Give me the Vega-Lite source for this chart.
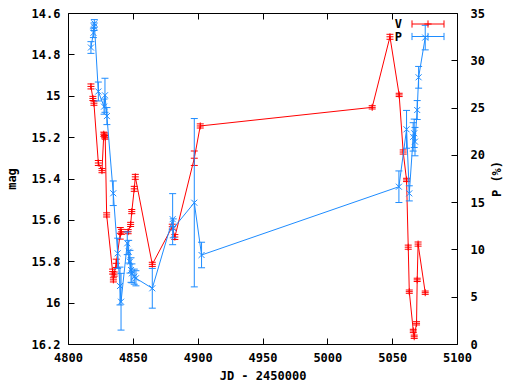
{
  "$schema": "https://vega.github.io/schema/vega-lite/v6.json",
  "width": 389,
  "height": 331,
  "autosize": {"type": "none"},
  "padding": {"left": 68, "top": 13, "right": 55, "bottom": 40},
  "background": "white",
  "config": {
    "view": {"stroke": "black", "strokeWidth": 1},
    "font": "DejaVu Sans Mono",
    "axis": {
      "domain": false,
      "grid": false,
      "tickColor": "black",
      "tickSize": -6,
      "tickWidth": 1,
      "labelFlush": false,
      "labelOverlap": false,
      "labelFont": "DejaVu Sans Mono",
      "labelFontSize": 12,
      "labelFontWeight": "bold",
      "labelColor": "black",
      "titleFont": "DejaVu Sans Mono",
      "titleFontSize": 12,
      "titleFontWeight": "bold",
      "titleColor": "black"
    }
  },
  "datasets": {
    "V": [
      {"s": "V", "jd": 4817.7, "v": 14.955, "lo": 14.943, "hi": 14.967},
      {"s": "V", "jd": 4819.2, "v": 15.013, "lo": 15.003, "hi": 15.023},
      {"s": "V", "jd": 4820.0, "v": 15.036, "lo": 15.026, "hi": 15.046},
      {"s": "V", "jd": 4823.4, "v": 15.325, "lo": 15.313, "hi": 15.337},
      {"s": "V", "jd": 4826.2, "v": 15.362, "lo": 15.352, "hi": 15.372},
      {"s": "V", "jd": 4827.6, "v": 15.186, "lo": 15.176, "hi": 15.196},
      {"s": "V", "jd": 4828.2, "v": 15.192, "lo": 15.18, "hi": 15.204},
      {"s": "V", "jd": 4828.7, "v": 15.2, "lo": 15.19, "hi": 15.21},
      {"s": "V", "jd": 4829.8, "v": 15.576, "lo": 15.566, "hi": 15.586},
      {"s": "V", "jd": 4834.4, "v": 15.85, "lo": 15.838, "hi": 15.862},
      {"s": "V", "jd": 4835.0, "v": 15.89, "lo": 15.88, "hi": 15.9},
      {"s": "V", "jd": 4835.6, "v": 15.862, "lo": 15.852, "hi": 15.872},
      {"s": "V", "jd": 4837.2, "v": 15.81, "lo": 15.79, "hi": 15.83},
      {"s": "V", "jd": 4840.3, "v": 15.665, "lo": 15.637, "hi": 15.693},
      {"s": "V", "jd": 4841.2, "v": 15.658, "lo": 15.646, "hi": 15.67},
      {"s": "V", "jd": 4846.4, "v": 15.657, "lo": 15.647, "hi": 15.667},
      {"s": "V", "jd": 4848.3, "v": 15.622, "lo": 15.612, "hi": 15.632},
      {"s": "V", "jd": 4849.2, "v": 15.56, "lo": 15.55, "hi": 15.57},
      {"s": "V", "jd": 4851.1, "v": 15.45, "lo": 15.438, "hi": 15.462},
      {"s": "V", "jd": 4851.9, "v": 15.392, "lo": 15.38, "hi": 15.404},
      {"s": "V", "jd": 4865.0, "v": 15.815, "lo": 15.805, "hi": 15.825},
      {"s": "V", "jd": 4880.4, "v": 15.633, "lo": 15.621, "hi": 15.645},
      {"s": "V", "jd": 4882.4, "v": 15.683, "lo": 15.671, "hi": 15.695},
      {"s": "V", "jd": 4897.4, "v": 15.302, "lo": 15.267, "hi": 15.337},
      {"s": "V", "jd": 4902.0, "v": 15.146, "lo": 15.136, "hi": 15.156},
      {"s": "V", "jd": 5034.6, "v": 15.056, "lo": 15.048, "hi": 15.064},
      {"s": "V", "jd": 5048.3, "v": 14.715, "lo": 14.703, "hi": 14.727},
      {"s": "V", "jd": 5055.4, "v": 14.996, "lo": 14.988, "hi": 15.004},
      {"s": "V", "jd": 5058.5, "v": 15.272, "lo": 15.262, "hi": 15.282},
      {"s": "V", "jd": 5061.1, "v": 15.407, "lo": 15.399, "hi": 15.415},
      {"s": "V", "jd": 5062.4, "v": 15.732, "lo": 15.722, "hi": 15.742},
      {"s": "V", "jd": 5063.2, "v": 15.947, "lo": 15.939, "hi": 15.955},
      {"s": "V", "jd": 5066.3, "v": 16.137, "lo": 16.129, "hi": 16.145},
      {"s": "V", "jd": 5067.0, "v": 16.165, "lo": 16.157, "hi": 16.173},
      {"s": "V", "jd": 5068.8, "v": 16.1, "lo": 16.092, "hi": 16.108},
      {"s": "V", "jd": 5069.3, "v": 15.89, "lo": 15.882, "hi": 15.898},
      {"s": "V", "jd": 5070.0, "v": 15.717, "lo": 15.707, "hi": 15.727},
      {"s": "V", "jd": 5075.5, "v": 15.952, "lo": 15.944, "hi": 15.96}
    ],
    "P": [
      {"s": "P", "jd": 4817.7, "v": 31.35, "lo": 30.73, "hi": 31.97},
      {"s": "P", "jd": 4819.6, "v": 32.9, "lo": 32.4, "hi": 33.4},
      {"s": "P", "jd": 4820.1, "v": 33.55, "lo": 33.15, "hi": 33.95},
      {"s": "P", "jd": 4820.3, "v": 33.9, "lo": 33.5, "hi": 34.3},
      {"s": "P", "jd": 4823.4, "v": 26.7, "lo": 25.7, "hi": 27.7},
      {"s": "P", "jd": 4827.8, "v": 25.1, "lo": 24.3, "hi": 25.9},
      {"s": "P", "jd": 4828.5, "v": 26.3, "lo": 24.5, "hi": 28.1},
      {"s": "P", "jd": 4830.0, "v": 24.1, "lo": 23.2, "hi": 25.0},
      {"s": "P", "jd": 4834.9, "v": 15.94, "lo": 14.64, "hi": 17.24},
      {"s": "P", "jd": 4838.3, "v": 9.59, "lo": 7.99, "hi": 11.19},
      {"s": "P", "jd": 4840.1, "v": 6.13, "lo": 4.13, "hi": 8.13},
      {"s": "P", "jd": 4840.9, "v": 4.47, "lo": 1.47, "hi": 7.47},
      {"s": "P", "jd": 4845.7, "v": 10.65, "lo": 9.45, "hi": 11.85},
      {"s": "P", "jd": 4846.8, "v": 9.76, "lo": 8.56, "hi": 10.96},
      {"s": "P", "jd": 4847.8, "v": 8.7, "lo": 7.5, "hi": 9.9},
      {"s": "P", "jd": 4848.6, "v": 7.82, "lo": 6.52, "hi": 9.12},
      {"s": "P", "jd": 4849.3, "v": 7.47, "lo": 6.47, "hi": 8.47},
      {"s": "P", "jd": 4851.1, "v": 7.12, "lo": 6.32, "hi": 7.92},
      {"s": "P", "jd": 4852.4, "v": 6.95, "lo": 6.15, "hi": 7.75},
      {"s": "P", "jd": 4865.0, "v": 5.89, "lo": 3.79, "hi": 7.99},
      {"s": "P", "jd": 4880.7, "v": 13.2, "lo": 10.5, "hi": 15.9},
      {"s": "P", "jd": 4881.2, "v": 12.23, "lo": 11.23, "hi": 13.23},
      {"s": "P", "jd": 4897.4, "v": 14.94, "lo": 6.04, "hi": 23.84},
      {"s": "P", "jd": 4903.0, "v": 9.41, "lo": 8.06, "hi": 10.76},
      {"s": "P", "jd": 5055.2, "v": 16.63, "lo": 14.96, "hi": 18.3},
      {"s": "P", "jd": 5061.1, "v": 22.7, "lo": 20.7, "hi": 24.7},
      {"s": "P", "jd": 5063.2, "v": 15.93, "lo": 15.13, "hi": 16.73},
      {"s": "P", "jd": 5066.2, "v": 21.9, "lo": 20.4, "hi": 23.4},
      {"s": "P", "jd": 5067.0, "v": 22.28, "lo": 20.78, "hi": 23.78},
      {"s": "P", "jd": 5067.6, "v": 21.4, "lo": 19.9, "hi": 22.9},
      {"s": "P", "jd": 5069.3, "v": 24.74, "lo": 23.74, "hi": 25.74},
      {"s": "P", "jd": 5070.4, "v": 28.2, "lo": 27.05, "hi": 29.35},
      {"s": "P", "jd": 5075.5, "v": 32.4, "lo": 31.1, "hi": 33.7}
    ]
  },
  "layer": [
    {
      "data": {"name": "V"},
      "encoding": {
        "x": {
          "field": "jd", "type": "quantitative",
          "scale": {"domain": [4800, 5100], "nice": false, "zero": false},
          "axis": {
            "orient": "bottom",
            "title": "JD - 2450000",
            "values": [4800, 4850, 4900, 4950, 5000, 5050, 5100],
            "format": "d",
            "labelPadding": 14,
            "titlePadding": 7
          }
        }
      },
      "layer": [
        {
          "mark": {"type": "rule", "strokeWidth": 1},
          "encoding": {
            "y": {
              "field": "lo", "type": "quantitative",
              "scale": {"domain": [14.6, 16.2], "reverse": true, "nice": false, "zero": false},
              "axis": {
                "orient": "left",
                "title": "mag",
                "values": [14.6, 14.8, 15, 15.2, 15.4, 15.6, 15.8, 16, 16.2],
                "format": "~g",
                "labelPadding": 14,
                "titlePadding": 13
              }
            },
            "y2": {"field": "hi"},
            "color": {
              "field": "s", "type": "nominal",
              "scale": {"domain": ["V", "P"], "range": ["#ff0000", "#1e8cff"]},
              "legend": {
                "orient": "none",
                "legendX": 354,
                "legendY": 5,
                "title": null,
                "direction": "vertical",
                "symbolType": "M-4,0H4M-4,-0.9V0.9M4,-0.9V0.9M0,-0.9V0.9M-0.9,0H0.9",
                "symbolSize": 64,
                "symbolStrokeWidth": 1,
                "symbolFillColor": "transparent",
                "labelFont": "DejaVu Sans Mono",
                "labelFontSize": 12,
                "labelFontWeight": "bold",
                "labelColor": "black",
                "labelAlign": "right",
                "labelOffset": -32,
                "rowPadding": 0.5
              }
            }
          }
        },
        {
          "mark": {"type": "point", "shape": "M-1,0H1", "size": 49, "filled": false, "stroke": "#ff0000", "strokeWidth": 1, "opacity": 1},
          "encoding": {"y": {"field": "lo", "type": "quantitative"}}
        },
        {
          "mark": {"type": "point", "shape": "M-1,0H1", "size": 49, "filled": false, "stroke": "#ff0000", "strokeWidth": 1, "opacity": 1},
          "encoding": {"y": {"field": "hi", "type": "quantitative"}}
        },
        {
          "mark": {"type": "line", "stroke": "#ff0000", "strokeWidth": 1},
          "encoding": {"y": {"field": "v", "type": "quantitative"}}
        },
        {
          "mark": {"type": "point", "shape": "M-1,0H1M0,-1V1", "size": 49, "filled": false, "stroke": "#ff0000", "strokeWidth": 1, "opacity": 1},
          "encoding": {"y": {"field": "v", "type": "quantitative"}}
        }
      ]
    },
    {
      "data": {"name": "P"},
      "encoding": {
        "x": {
          "field": "jd", "type": "quantitative",
          "axis": {
            "orient": "top",
            "title": null,
            "labels": false,
            "values": [4800, 4850, 4900, 4950, 5000, 5050, 5100]
          }
        }
      },
      "layer": [
        {
          "mark": {"type": "rule", "strokeWidth": 1},
          "encoding": {
            "y": {
              "field": "lo", "type": "quantitative",
              "scale": {"domain": [0, 35], "nice": false, "zero": false},
              "axis": {
                "orient": "right",
                "title": "P (%)",
                "titleAngle": -90,
                "values": [0, 5, 10, 15, 20, 25, 30, 35],
                "format": "d",
                "labelPadding": 19,
                "titlePadding": 19
              }
            },
            "y2": {"field": "hi"},
            "color": {"field": "s", "type": "nominal"}
          }
        },
        {
          "mark": {"type": "point", "shape": "M-1,0H1", "size": 49, "filled": false, "stroke": "#1e8cff", "strokeWidth": 1, "opacity": 1},
          "encoding": {"y": {"field": "lo", "type": "quantitative"}}
        },
        {
          "mark": {"type": "point", "shape": "M-1,0H1", "size": 49, "filled": false, "stroke": "#1e8cff", "strokeWidth": 1, "opacity": 1},
          "encoding": {"y": {"field": "hi", "type": "quantitative"}}
        },
        {
          "mark": {"type": "line", "stroke": "#1e8cff", "strokeWidth": 1},
          "encoding": {"y": {"field": "v", "type": "quantitative"}}
        },
        {
          "mark": {"type": "point", "shape": "M-1,-1L1,1M-1,1L1,-1", "size": 36, "filled": false, "stroke": "#1e8cff", "strokeWidth": 1, "opacity": 1},
          "encoding": {"y": {"field": "v", "type": "quantitative"}}
        }
      ]
    }
  ],
  "resolve": {"scale": {"y": "independent"}, "axis": {"x": "independent"}}
}
